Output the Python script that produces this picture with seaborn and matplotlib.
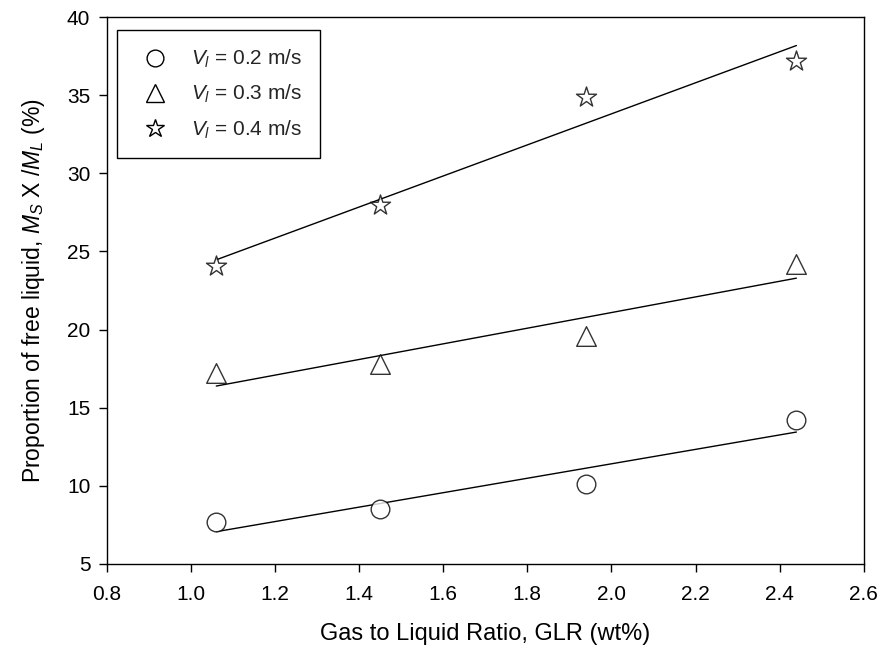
import matplotlib
matplotlib.use("Agg")
import matplotlib.pyplot as plt
from matplotlib.lines import Line2D
import seaborn as sns
import pandas as pd

glr = [1.06, 1.45, 1.94, 2.44]
v02 = [7.7, 8.5, 10.1, 14.2]
v03 = [17.2, 17.8, 19.6, 24.2]
v04 = [24.1, 28.0, 34.9, 37.2]
labels = [r"$V_l$ = 0.2 m/s", r"$V_l$ = 0.3 m/s", r"$V_l$ = 0.4 m/s"]
markers = ["o", "^", "*"]
xticks = [0.8, 1.0, 1.2, 1.4, 1.6, 1.8, 2.0, 2.2, 2.4, 2.6]
yticks = [5, 10, 15, 20, 25, 30, 35, 40]

sns.set_theme(style="ticks")
plt.rcParams["font.family"] = ["Liberation Sans", "DejaVu Sans"]
plt.rcParams["mathtext.fontset"] = "custom"
plt.rcParams["mathtext.rm"] = "Liberation Sans"
plt.rcParams["mathtext.it"] = "Liberation Sans:italic"

fig = plt.figure(figsize=(8.84, 6.58), dpi=100)
ax = fig.add_axes([0.121, 0.143, 0.856, 0.831])

sizes = [180, 200, 230]
handles = []
for ys, lab, mk, sz in zip([v02, v03, v04], labels, markers, sizes):
    df = pd.DataFrame({"x": glr, "y": ys})
    sns.regplot(data=df, x="x", y="y", ax=ax, ci=None, marker=mk, truncate=True,
                scatter_kws=dict(s=sz, facecolors="white", edgecolors="black", linewidths=1.0, zorder=3),
                line_kws=dict(color="black", lw=1.0, zorder=2), color="black")
    handles.append(Line2D([], [], ls="none", marker=mk, markersize=(sz ** 0.5) * 0.9,
                          markerfacecolor="white", markeredgecolor="black", markeredgewidth=1.0, label=lab))

ax.set_xlim(0.8, 2.6)
ax.set_ylim(5, 40)
ax.set_xticks(xticks)
ax.set_yticks(yticks)
ax.set_xticklabels([f"{t:.1f}" for t in xticks])
ax.tick_params(direction="out", length=6, width=1, labelsize=15, colors="black")
ax.tick_params(axis="x", pad=9)
ax.tick_params(axis="y", pad=6)
for s in ax.spines.values():
    s.set_color("black")
    s.set_linewidth(1.0)
ax.set_xlabel("Gas to Liquid Ratio, GLR (wt%)", fontsize=17, labelpad=14, color="black")
ax.set_ylabel(r"Proportion of free liquid, $M_S$ X /$M_L$ (%)", fontsize=16.5, labelpad=14, color="black")

leg = ax.legend(handles=handles, loc="upper left", bbox_to_anchor=(0.013, 0.976), fontsize=15,
                frameon=True, fancybox=False, edgecolor="black", framealpha=1,
                borderpad=0.85, labelspacing=0.62, handletextpad=0.7, borderaxespad=0.0)
leg.get_frame().set_linewidth(1.0)

fig.savefig("out.png", dpi=100)
